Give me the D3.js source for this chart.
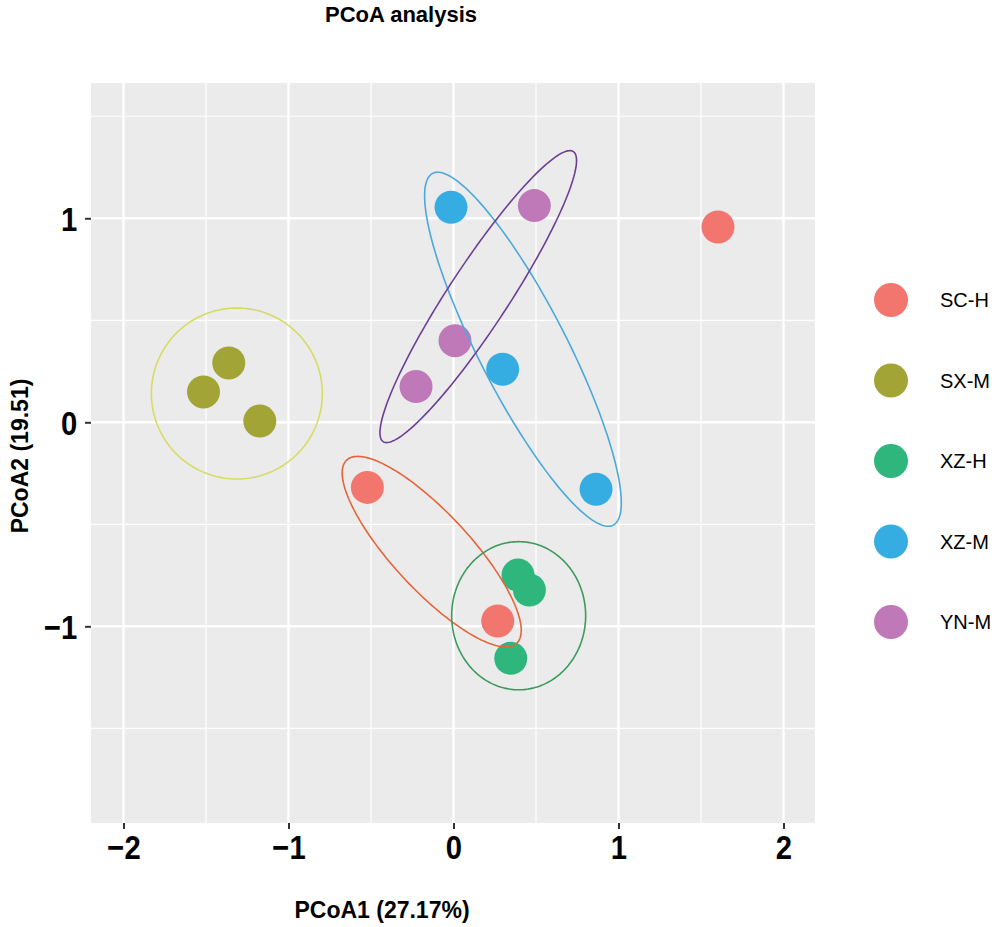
<!DOCTYPE html>
<html lang="en">
<head>
    <meta charset="UTF-8">
    <title>PCoA analysis</title>
    <script src="https://cdn.jsdelivr.net/npm/d3@7/dist/d3.min.js"></script>
    <style>
        body {
            margin: 0;
            background: #fff;
            font-family: "Liberation Sans", Arial, sans-serif;
        }
        .tick-label {
            font-size: 34px;
            font-weight: bold;
            fill: #000;
        }
        .axis-title {
            font-size: 23px;
            font-weight: bold;
        }
        .legend text {
            font-size: 20px;
        }
    </style>
</head>
<body>
<svg id="chart" width="1000" height="927"></svg>
<script>
    // groups and colours
    const groups = ["SC-H", "SX-M", "XZ-H", "XZ-M", "YN-M"];
    const pointColors = ["#f3766e", "#a2a536", "#2eb67d", "#35ade2", "#bf79b8"];
    const ellipseColors = ["#e5653a", "#d5dc63", "#3c9a5c", "#4aa9da", "#6c3f96"];

    // samples
    const sampleGroup = ["SC-H", "SC-H", "SC-H",
                         "SX-M", "SX-M", "SX-M",
                         "XZ-H", "XZ-H", "XZ-H",
                         "XZ-M", "XZ-M", "XZ-M",
                         "YN-M", "YN-M", "YN-M"];
    const pcoa1 = [-0.522, 0.268, 1.603,
                   -1.362, -1.515, -1.174,
                   0.391, 0.460, 0.347,
                   -0.015, 0.298, 0.864,
                   0.490, 0.009, -0.227];
    const pcoa2 = [-0.319, -0.974, 0.957,
                   0.291, 0.149, 0.006,
                   -0.749, -0.822, -1.157,
                   1.054, 0.260, -0.328,
                   1.062, 0.400, 0.175];

    // confidence ellipses: centre and two semi-axis vectors, in data units
    const ellipseGroup = ["SC-H", "SX-M", "XZ-H", "XZ-M", "YN-M"];
    const ellipseCx = [-0.132, -1.313, 0.395, 0.421, 0.150];
    const ellipseCy = [-0.634, 0.141, -0.948, 0.358, 0.616];
    const ellipseAx = [[0.515, -0.449], [0.518, 0], [0.406, 0], [-0.547, 0.862], [0.576, 0.711]];
    const ellipseBx = [[0.171, 0.128], [0, 0.419], [0, 0.363], [0.237, 0.0985], [0.152, -0.0806]];

    const xTicks = [-2, -1, 0, 1, 2];
    const xMinor = [-1.5, -0.5, 0.5, 1.5];
    const yTicks = [-1, 0, 1];
    const yMinor = [-1.5, -0.5, 0.5, 1.5];

    const panel = { left: 91, top: 83, right: 815, bottom: 823 };

    const svg = d3.select("#chart");

    const x = d3.scaleLinear().domain([-2.197, 2.191]).range([panel.left, panel.right]);
    const y = d3.scaleLinear().domain([-1.964, 1.663]).range([panel.bottom, panel.top]);
    const color = d3.scaleOrdinal().domain(groups).range(pointColors);
    const ecolor = d3.scaleOrdinal().domain(groups).range(ellipseColors);

    // title
    svg.append("text")
        .attr("x", 401).attr("y", 22)
        .attr("text-anchor", "middle")
        .style("font-size", "22px").style("font-weight", "bold")
        .text("PCoA analysis");

    // panel background
    svg.append("rect")
        .attr("x", panel.left).attr("y", panel.top)
        .attr("width", panel.right - panel.left)
        .attr("height", panel.bottom - panel.top)
        .attr("fill", "#ebebeb");

    const grid = svg.append("g");
    grid.selectAll(".xminor").data(xMinor).enter().append("line")
        .attr("x1", d => x(d)).attr("x2", d => x(d))
        .attr("y1", panel.top).attr("y2", panel.bottom)
        .attr("stroke", "#fff").attr("stroke-width", 1.2);
    grid.selectAll(".yminor").data(yMinor).enter().append("line")
        .attr("y1", d => y(d)).attr("y2", d => y(d))
        .attr("x1", panel.left).attr("x2", panel.right)
        .attr("stroke", "#fff").attr("stroke-width", 1.2);
    grid.selectAll(".xmajor").data(xTicks).enter().append("line")
        .attr("x1", d => x(d)).attr("x2", d => x(d))
        .attr("y1", panel.top).attr("y2", panel.bottom)
        .attr("stroke", "#fff").attr("stroke-width", 2.4);
    grid.selectAll(".ymajor").data(yTicks).enter().append("line")
        .attr("y1", d => y(d)).attr("y2", d => y(d))
        .attr("x1", panel.left).attr("x2", panel.right)
        .attr("stroke", "#fff").attr("stroke-width", 2.4);

    // axes
    const fmt = d => d < 0 ? "\u2212" + Math.abs(d) : d;
    const xAxis = svg.append("g")
        .attr("transform", `translate(0,${panel.bottom})`)
        .call(d3.axisBottom(x).tickValues(xTicks).tickSize(6).tickPadding(6).tickFormat(fmt));
    const yAxis = svg.append("g")
        .attr("transform", `translate(${panel.left},0)`)
        .call(d3.axisLeft(y).tickValues(yTicks).tickSize(6).tickPadding(10).tickFormat(fmt));
    [xAxis, yAxis].forEach(a => {
        a.select(".domain").remove();
        a.selectAll(".tick line").attr("stroke", "#333").attr("stroke-width", 2);
        a.selectAll(".tick text")
            .attr("class", "tick-label")
            .attr("font-family", null).attr("font-size", null)
            .attr("transform", "scale(0.86,1)");   // labels look condensed in the original
    });
    yAxis.selectAll(".tick text").attr("dy", "0.36em");

    svg.append("text").attr("class", "axis-title")
        .attr("x", 382).attr("y", 918)
        .attr("text-anchor", "middle")
        .text("PCoA1 (27.17%)");
    svg.append("text").attr("class", "axis-title")
        .attr("transform", "translate(28,456) rotate(-90)")
        .attr("text-anchor", "middle")
        .text("PCoA2 (19.51)");

    // points
    const samples = sampleGroup.map((g, i) => ({ group: g, x: pcoa1[i], y: pcoa2[i] }));
    svg.append("g").selectAll("circle").data(samples).enter().append("circle")
        .attr("cx", d => x(d.x)).attr("cy", d => y(d.y))
        .attr("r", 16.5)
        .attr("fill", d => color(d.group));

    // ellipses drawn on top
    const line = d3.line().x(p => x(p[0])).y(p => y(p[1])).curve(d3.curveLinearClosed);
    const steps = d3.range(0, 2 * Math.PI, Math.PI / 90);
    svg.append("g").selectAll("path").data(ellipseGroup).enter().append("path")
        .attr("d", (g, i) => line(steps.map(t => [
            ellipseCx[i] + Math.cos(t) * ellipseAx[i][0] + Math.sin(t) * ellipseBx[i][0],
            ellipseCy[i] + Math.cos(t) * ellipseAx[i][1] + Math.sin(t) * ellipseBx[i][1]
        ])))
        .attr("fill", "none")
        .attr("stroke", g => ecolor(g))
        .attr("stroke-width", 1.6);

    // legend
    const legend = svg.append("g").attr("class", "legend");
    const legendY = d3.scalePoint().domain(groups).range([300, 622]);
    const item = legend.selectAll("g").data(groups).enter().append("g")
        .attr("transform", g => `translate(891,${legendY(g)})`);
    item.append("circle").attr("r", 17).attr("fill", g => color(g));
    item.append("text").attr("x", 49).attr("dy", "0.36em").text(g => g);
</script>
</body>
</html>
